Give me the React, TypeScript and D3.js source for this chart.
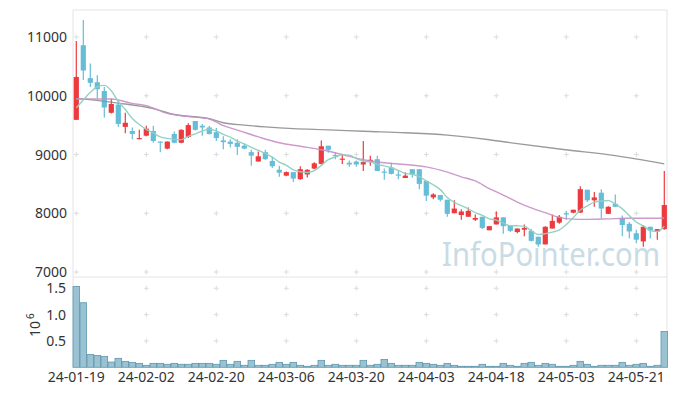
import React from 'react';
import * as d3 from 'd3';

const dates = [
  "2024-01-19","2024-01-22","2024-01-23","2024-01-24","2024-01-25","2024-01-26","2024-01-29","2024-01-30","2024-01-31",
  "2024-02-01","2024-02-02","2024-02-05","2024-02-06","2024-02-07","2024-02-08","2024-02-13","2024-02-14","2024-02-15","2024-02-16","2024-02-19","2024-02-20","2024-02-21","2024-02-22","2024-02-23","2024-02-26","2024-02-27","2024-02-28","2024-02-29",
  "2024-03-04","2024-03-05","2024-03-06","2024-03-07","2024-03-08","2024-03-11","2024-03-12","2024-03-13","2024-03-14","2024-03-15","2024-03-18","2024-03-19","2024-03-20","2024-03-21","2024-03-22","2024-03-25","2024-03-26","2024-03-27","2024-03-28","2024-03-29",
  "2024-04-01","2024-04-02","2024-04-03","2024-04-04","2024-04-05","2024-04-08","2024-04-09","2024-04-11","2024-04-12","2024-04-15","2024-04-16","2024-04-17","2024-04-18","2024-04-19","2024-04-22","2024-04-23","2024-04-24","2024-04-25","2024-04-26","2024-04-29","2024-04-30",
  "2024-05-02","2024-05-03","2024-05-07","2024-05-08","2024-05-09","2024-05-10","2024-05-13","2024-05-14","2024-05-16","2024-05-17","2024-05-20","2024-05-21","2024-05-22","2024-05-23","2024-05-24","2024-05-27"
];

const open = [
  9590,10860,10300,10230,10080,9710,9850,9470,9400,9260,
  9320,9400,9220,9100,9350,9200,9300,9570,9490,9460,
  9380,9240,9220,9200,9150,9040,8880,9040,8890,8740,
  8640,8700,8580,8660,8760,8840,9150,8990,8920,8860,
  8880,8830,8880,8920,8710,8780,8660,8600,8750,8750,
  8550,8270,8310,8230,8000,7970,7940,7890,7940,7710,
  7810,7930,7800,7680,7720,7700,7600,7470,7740,7840,
  8000,8010,8010,8400,8220,8350,7990,8160,7920,7820,
  7660,7520,7770,7690,7730
];
const high = [
  10930,11290,10550,10350,10150,9950,9920,9710,9460,9420,
  9490,9490,9220,9220,9390,9430,9530,9570,9520,9490,
  9450,9310,9260,9260,9190,9080,9050,9080,8960,8810,
  8710,8700,8800,8750,8870,9240,9150,9040,9010,8900,
  8900,9230,8980,8980,8760,8860,8720,8700,8750,8750,
  8550,8340,8310,8230,8220,8070,8100,7980,7940,7780,
  8030,7930,7800,7740,7810,7730,7600,7780,7980,7970,
  8040,8060,8460,8400,8360,8410,8120,8320,7960,7850,
  7720,7800,7770,7730,8720
];
const low = [
  9590,10270,10150,9950,9630,9700,9470,9360,9260,9260,
  9310,9200,9040,9090,9190,9190,9280,9410,9320,9340,
  9230,9090,9120,8990,9090,8810,8880,8910,8770,8620,
  8630,8530,8570,8610,8750,8830,9030,8920,8840,8790,
  8790,8720,8810,8720,8570,8660,8580,8600,8610,8410,
  8210,8240,8200,7940,8000,7890,7940,7870,7730,7710,
  7810,7650,7680,7660,7610,7520,7430,7470,7740,7820,
  7890,8000,8010,8190,8110,7920,7990,8110,7610,7570,
  7490,7430,7570,7550,7720
];
const close = [
  10320,10430,10220,10110,9800,9860,9520,9540,9350,9280,
  9440,9230,9200,9220,9200,9420,9500,9420,9460,9350,
  9280,9210,9180,9130,9100,8980,8970,8920,8800,8690,
  8700,8590,8750,8740,8850,9140,9080,8970,8930,8830,
  8830,8870,8910,8720,8700,8670,8650,8640,8660,8500,
  8300,8320,8230,7990,8080,8030,8040,7920,7750,7780,
  7930,7780,7700,7740,7750,7530,7470,7770,7870,7940,
  7990,8060,8410,8220,8270,8080,8110,8110,7800,7690,
  7550,7770,7710,7730,8140
];
const volume = [
  1535000,1226000,245000,226000,208000,100000,170000,113000,94000,75000,
  38000,75000,75000,57000,75000,57000,57000,75000,75000,75000,
  57000,132000,57000,113000,38000,132000,38000,38000,57000,94000,
  57000,94000,38000,19000,38000,132000,38000,57000,38000,38000,
  38000,132000,38000,57000,150000,75000,38000,38000,38000,94000,
  75000,57000,38000,75000,38000,19000,19000,19000,57000,19000,
  19000,75000,38000,19000,75000,94000,38000,75000,57000,19000,
  19000,38000,113000,57000,19000,38000,38000,38000,94000,38000,
  57000,75000,19000,38000,680000
];

// closes of the four sessions before the first shown date (for the 5-day average)
const priorCloses = [9771, 9567, 9635, 9683];

// 20-day average at these session indices
const ma20Idx = [0,5,8,10,13,16,19,21,23,26,29,32,35,38,41,44,47,50,53,55,57,59,61,63,65,67,69,71,73,76,79,82,84];
const ma20Val = [9945,9945,9870,9830,9700,9645,9605,9490,9415,9300,9200,9140,9080,9000,8910,8860,8830,8790,8700,8620,8550,8420,8310,8190,8090,8010,7930,7900,7895,7905,7915,7915,7920];

// long average at these session indices
const maLongIdx = [0,6,11,14,19,21,24,27,31,36,41,47,53,59,63,70,77,84];
const maLongVal = [9956,9875,9780,9680,9610,9540,9500,9470,9440,9420,9395,9370,9330,9250,9185,9080,8980,8840];

const priceTicks = [7000, 8000, 9000, 10000, 11000];
const volTicks = [500000, 1000000, 1500000];
const volTickLabels = ["0.5", "1.0", "1.5"];

const W = 677, H = 396;
const RED = "#ec3a3e";
const BLUE = "#65bdd7";
const FONT = "'Noto Sans', 'DejaVu Sans', sans-serif";

export default function App() {
  const n = dates.length;
  const x = d3.scaleLinear().domain([0, n - 1]).range([76.3, 664.3]);
  const y = d3.scaleLinear().domain([7000, 11000]).range([272, 37]);
  const yv = d3.scaleLinear().domain([0, 1500000]).range([367.3, 288.3]);

  const plotL = 73, plotR = 667, plotT = 10, priceB = 277, volB = 367.5;

  const allCloses = [...priorCloses, ...close];
  const ma5 = close.map((_, i) => d3.mean(allCloses.slice(i, i + 5)) as number);

  const line = d3.line<[number, number]>().x(d => x(d[0])).y(d => y(d[1])).curve(d3.curveMonotoneX);
  const ma5Path = line(ma5.map((v, i) => [i, v] as [number, number])) || "";
  const ma20Path = line(ma20Idx.map((idx, k) => [idx, ma20Val[k]] as [number, number])) || "";
  const maLongPath = line(maLongIdx.map((idx, k) => [idx, maLongVal[k]] as [number, number])) || "";

  const gridIdx = d3.range(0, n, 10);
  const crossYs = [...priceTicks.map(t => y(t)), ...volTicks.map(t => yv(t))];

  return (
    <svg width={W} height={H} style={{ position: 'absolute', left: 0, top: 0, background: '#fff' }} fontFamily={FONT}>
      {/* frame */}
      <g stroke="#e4e4e4" strokeWidth={1} fill="none">
        <line x1={plotL} y1={plotT} x2={plotR} y2={plotT} />
        <line x1={plotL} y1={priceB} x2={plotR} y2={priceB} />
        <line x1={plotL} y1={plotT} x2={plotL} y2={volB} />
        <line x1={plotR} y1={plotT} x2={plotR} y2={volB} />
      </g>
      {/* grid crosses */}
      <g stroke="#dcdcdc" strokeWidth={1}>
        {gridIdx.map(i => crossYs.map((cy, k) => (
          <g key={`${i}-${k}`}>
            <line x1={x(i) - 2.5} x2={x(i) + 2.5} y1={cy} y2={cy} />
            <line x1={x(i)} x2={x(i)} y1={cy - 2.5} y2={cy + 2.5} />
          </g>
        )))}
      </g>
      {/* watermark */}
      <text x={442} y={266} fontSize={33} fill="#c9dbe5" textLength={218} lengthAdjust="spacingAndGlyphs" fontFamily={FONT}>InfoPointer.com</text>

      {/* volume bars */}
      <g fill="#9ac2d2" stroke="#5f97b0" strokeWidth={0.8}>
        {volume.map((v, i) => (
          <rect key={i} x={x(i) - 3.3} width={6.6} y={yv(v)} height={Math.max(0, yv(0) - yv(v))} />
        ))}
      </g>

      {/* candles */}
      <g>
        {close.map((c, i) => {
          const o = open[i];
          const up = c >= o;
          const col = up ? RED : BLUE;
          const top = y(Math.max(o, c));
          const bot = y(Math.min(o, c));
          return (
            <g key={i}>
              <line x1={x(i)} x2={x(i)} y1={y(high[i])} y2={y(low[i])} stroke={col} strokeWidth={1.2} />
              <rect x={x(i) - 2.6} width={5.2} y={top} height={Math.max(1.2, bot - top)} fill={col} />
            </g>
          );
        })}
      </g>

      {/* moving averages */}
      <path d={maLongPath} fill="none" stroke="#8f8f8f" strokeWidth={1.4} opacity={0.9} />
      <path d={ma20Path} fill="none" stroke="#c68fc6" strokeWidth={1.4} opacity={0.9} />
      <path d={ma5Path} fill="none" stroke="#8fd0c1" strokeWidth={1.4} opacity={0.95} />

      {/* price axis labels */}
      <g fontSize={14} fill="#333" textAnchor="end">
        {priceTicks.map(t => (
          <text key={t} x={67} y={y(t)} dy="0.36em">{t}</text>
        ))}
        {volTicks.map((t, k) => (
          <text key={t} x={66} y={yv(t)} dy="0.36em">{volTickLabels[k]}</text>
        ))}
      </g>
      {/* 10^6 */}
      <g transform="translate(40,322) rotate(-90)" fontSize={14} fill="#333">
        <text x={-7} y={0} textAnchor="middle">10</text>
        <text x={3} y={-6} fontSize={10}>6</text>
      </g>
      {/* x axis labels */}
      <g fontSize={14} fill="#333" textAnchor="middle">
        {gridIdx.map(i => (
          <text key={i} x={x(i)} y={381.5}>{dates[i].slice(2)}</text>
        ))}
      </g>
    </svg>
  );
}
